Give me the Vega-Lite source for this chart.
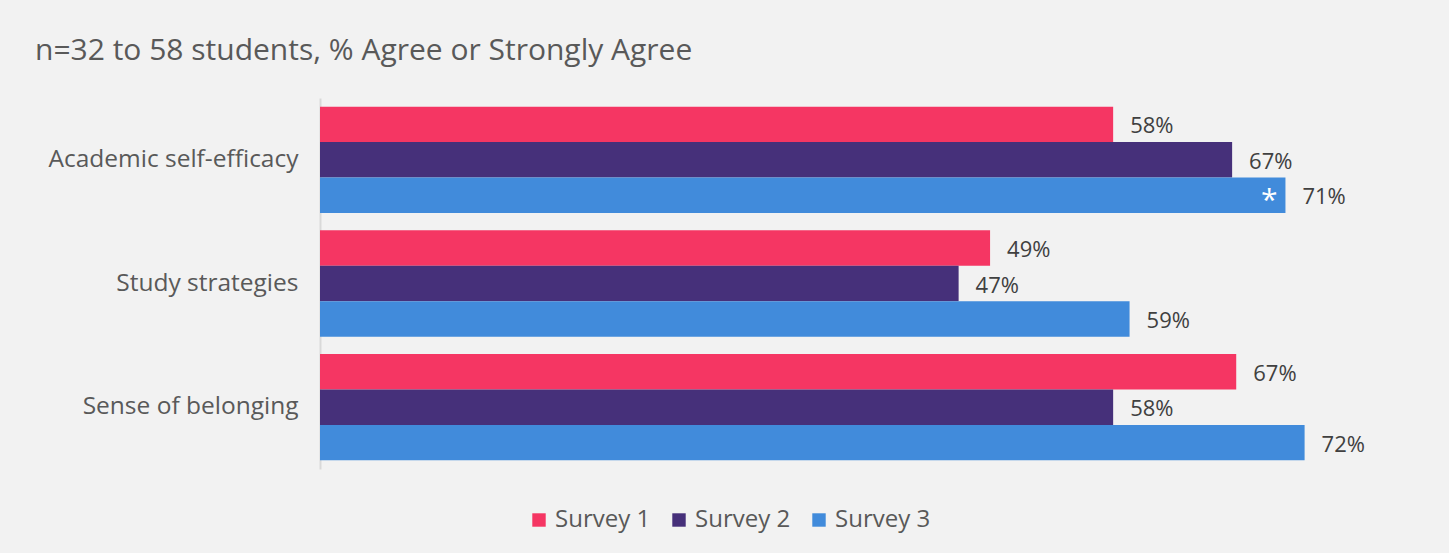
{
  "$schema": "https://vega.github.io/schema/vega-lite/v6.json",
  "width": 1094,
  "height": 371,
  "autosize": "none",
  "padding": {"left": 320, "top": 98, "right": 35, "bottom": 84},
  "background": "#f2f2f2",
  "config": {"view": {"stroke": null}, "font": "Open Sans"},
  "title": {
    "text": "n=32 to 58 students, % Agree or Strongly Agree",
    "anchor": "start",
    "frame": "group",
    "dx": -285,
    "dy": 27,
    "offset": 35,
    "baseline": "alphabetic",
    "fontSize": 30,
    "fontWeight": "normal",
    "color": "#595959"
  },
  "data": {
    "values": [
      {"measure": "Academic self-efficacy", "survey": "Survey 1", "pct": 0.58, "note": ""},
      {"measure": "Academic self-efficacy", "survey": "Survey 2", "pct": 0.667, "note": ""},
      {"measure": "Academic self-efficacy", "survey": "Survey 3", "pct": 0.706, "note": "*"},
      {"measure": "Study strategies", "survey": "Survey 1", "pct": 0.49, "note": ""},
      {"measure": "Study strategies", "survey": "Survey 2", "pct": 0.467, "note": ""},
      {"measure": "Study strategies", "survey": "Survey 3", "pct": 0.592, "note": ""},
      {"measure": "Sense of belonging", "survey": "Survey 1", "pct": 0.67, "note": ""},
      {"measure": "Sense of belonging", "survey": "Survey 2", "pct": 0.58, "note": ""},
      {"measure": "Sense of belonging", "survey": "Survey 3", "pct": 0.72, "note": ""}
    ]
  },
  "encoding": {
    "y": {
      "field": "measure",
      "type": "nominal",
      "sort": ["Academic self-efficacy", "Study strategies", "Sense of belonging"],
      "scale": {"paddingInner": 0.14, "paddingOuter": 0.07},
      "axis": {
        "title": null,
        "ticks": false,
        "labelFontSize": 24.5,
        "labelLimit": 0,
        "labelColor": "#595959",
        "labelPadding": 22,
        "domainColor": "#d9d9d9",
        "domainWidth": 2
      }
    },
    "yOffset": {"field": "survey", "type": "nominal", "sort": ["Survey 1", "Survey 2", "Survey 3"]},
    "x": {
      "field": "pct",
      "type": "quantitative",
      "scale": {"domain": [0, 0.8]},
      "axis": null
    }
  },
  "layer": [
    {
      "mark": {"type": "bar"},
      "encoding": {
        "color": {
          "field": "survey",
          "type": "nominal",
          "scale": {"domain": ["Survey 1", "Survey 2", "Survey 3"], "range": ["#F53663", "#46307A", "#418BDB"]},
          "legend": {
            "orient": "none",
            "legendX": 207,
            "legendY": 410,
            "direction": "horizontal",
            "title": null,
            "symbolType": "square",
            "symbolSize": 180,
            "symbolStrokeWidth": 0,
            "labelFontSize": 24,
            "labelColor": "#595959",
            "labelOffset": 4,
            "columnPadding": 16
          }
        }
      }
    },
    {
      "mark": {"type": "text", "align": "left", "baseline": "middle", "dx": 17, "dy": 2, "fontSize": 22, "color": "#404040"},
      "encoding": {"text": {"field": "pct", "type": "quantitative", "format": ".0%"}}
    },
    {
      "transform": [{"filter": "datum.note != ''"}],
      "mark": {"type": "text", "align": "right", "baseline": "middle", "dx": -8, "dy": 6, "fontSize": 30, "color": "white"},
      "encoding": {"text": {"field": "note"}}
    }
  ]
}
